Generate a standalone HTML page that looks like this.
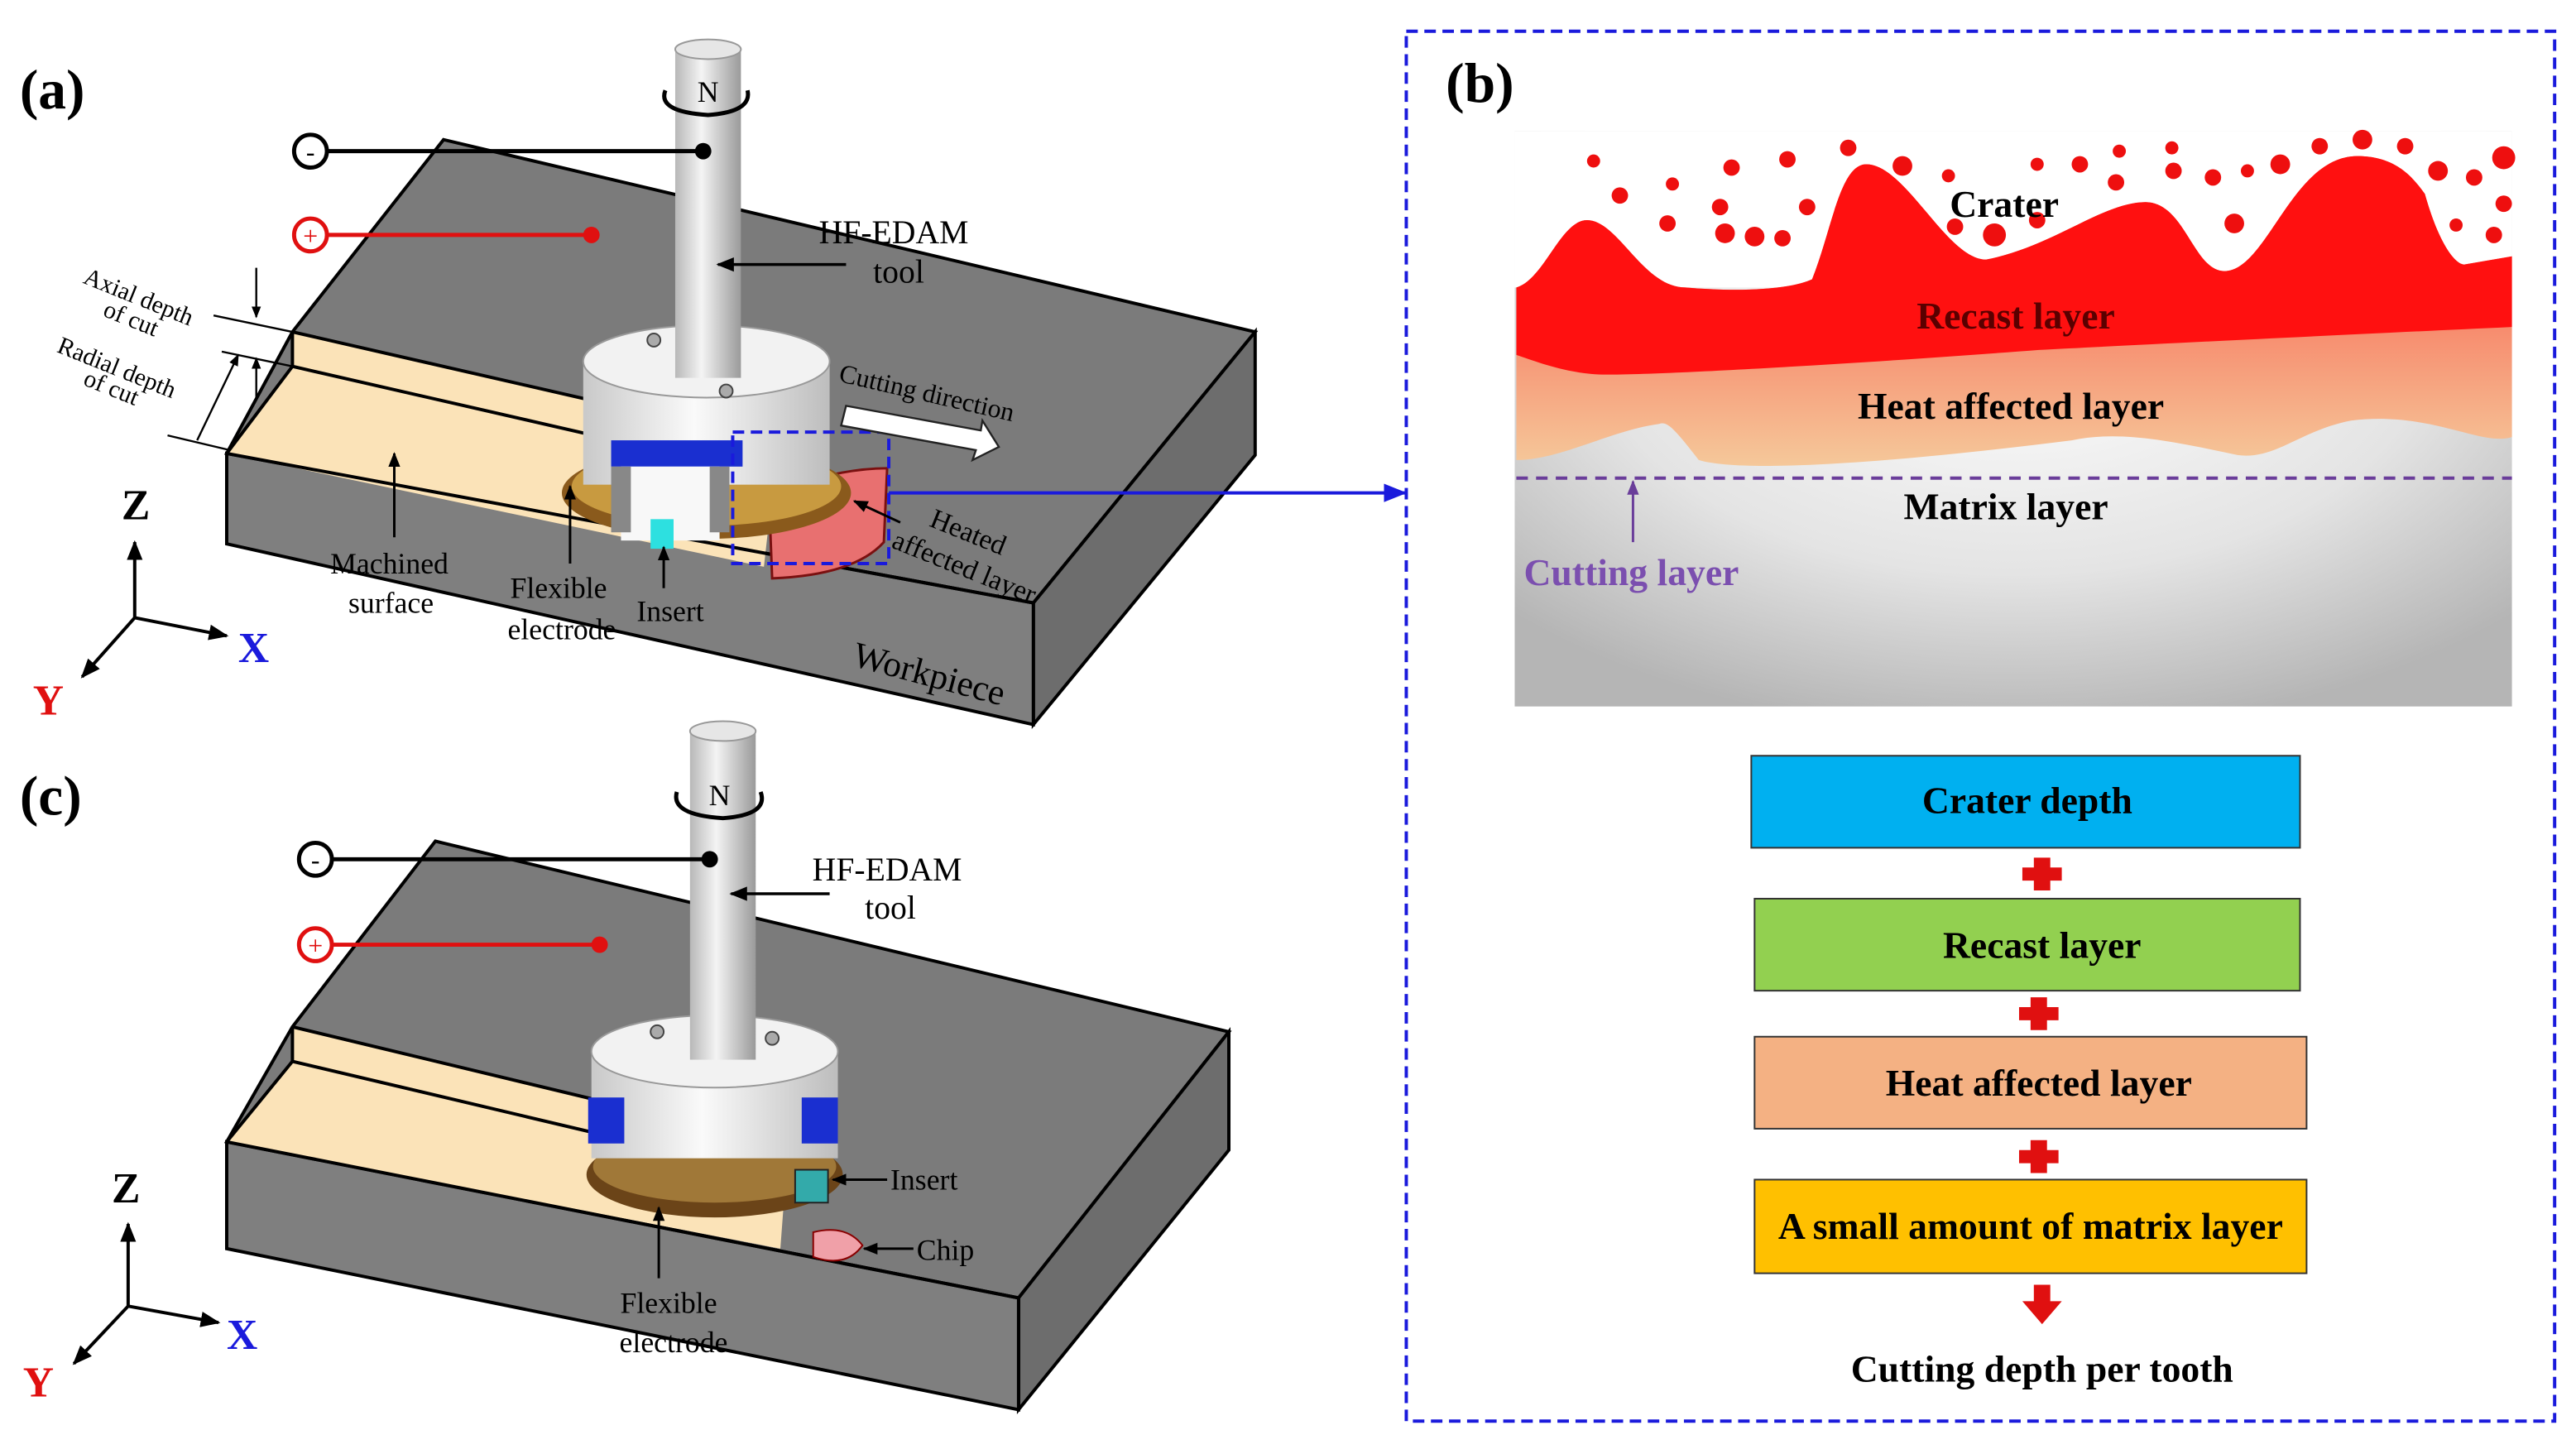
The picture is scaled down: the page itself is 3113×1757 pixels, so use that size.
<!DOCTYPE html>
<html><head><meta charset="utf-8"><style>
html,body{margin:0;padding:0;background:#fff;}
svg{display:block;}
text{font-family:"Liberation Serif",serif;}
</style></head><body>
<svg width="3113" height="1757" viewBox="0 0 1568 885" preserveAspectRatio="none" xmlns="http://www.w3.org/2000/svg">
<defs>
<linearGradient id="shaft" x1="0" x2="1" y1="0" y2="0"><stop offset="0" stop-color="#b8b8b8"/><stop offset="0.4" stop-color="#f4f4f4"/><stop offset="1" stop-color="#9a9a9a"/></linearGradient>
<linearGradient id="holder" x1="0" x2="1"><stop offset="0" stop-color="#c9c9c9"/><stop offset="0.45" stop-color="#fafafa"/><stop offset="1" stop-color="#bdbdbd"/></linearGradient>
<linearGradient id="heat" x1="0" y1="0" x2="0" y2="1"><stop offset="0" stop-color="#ff2a1a"/><stop offset="0.35" stop-color="#f8705a"/><stop offset="1" stop-color="#f5c89a"/></linearGradient>
<radialGradient id="matrix" cx="0.5" cy="0.35" r="0.7"><stop offset="0" stop-color="#ffffff"/><stop offset="0.6" stop-color="#e4e4e4"/><stop offset="1" stop-color="#b5b5b5"/></radialGradient>
<marker id="ah" viewBox="0 0 10 10" refX="9" refY="5" markerWidth="6" markerHeight="6" orient="auto"><path d="M0,1 L10,5 L0,9 z" fill="#000"/></marker>
<marker id="ahb" viewBox="0 0 10 10" refX="9" refY="5" markerWidth="7" markerHeight="7" orient="auto"><path d="M0,1 L10,5 L0,9 z" fill="#1a1adc"/></marker>
<marker id="ahp" viewBox="0 0 10 10" refX="9" refY="5" markerWidth="6" markerHeight="6" orient="auto"><path d="M0,1 L10,5 L0,9 z" fill="#6a3d9a"/></marker>
</defs>

<text x="12" y="66" font-size="34" font-weight="bold">(a)</text>
<polygon points="270,85 764,202 629,367 138,276 178,202" fill="#7b7b7b" stroke="#000" stroke-width="2"/>
<polygon points="764,202 764,277 629,441 629,367" fill="#6d6d6d" stroke="#000" stroke-width="2"/>
<polygon points="138,276 629,367 629,441 138,331" fill="#7f7f7f" stroke="#000" stroke-width="2"/>
<polygon points="178,202 178,223 138,276 465,345 470,300 440,262" fill="#fbe3b8"/>
<line x1="178" y1="202" x2="440" y2="262" stroke="#000" stroke-width="2"/>
<line x1="178" y1="223" x2="440" y2="283" stroke="#000" stroke-width="2"/>
<line x1="178" y1="202" x2="178" y2="223" stroke="#000" stroke-width="2"/>
<line x1="138" y1="276" x2="178" y2="223" stroke="#000" stroke-width="2"/>
<line x1="138" y1="276" x2="629" y2="367" stroke="#000" stroke-width="2"/>
<path d="M468,300 Q510,285 540,285 L538,330 Q520,350 470,352 Z" fill="#e87070" stroke="#7a1010" stroke-width="1.5"/>
<ellipse cx="430" cy="300" rx="88" ry="28" fill="#8a5a1c"/>
<ellipse cx="430" cy="296" rx="82" ry="24" fill="#c89a40"/>
<rect x="355" y="220" width="150" height="75" fill="url(#holder)"/>
<ellipse cx="430" cy="220" rx="75" ry="22" fill="#f2f2f2" stroke="#999"/>
<rect x="372" y="268" width="80" height="16" fill="#1a2fd0"/>
<rect x="378" y="284" width="60" height="45" fill="#f8f8f8"/>
<rect x="372" y="284" width="12" height="40" fill="#888"/>
<rect x="432" y="284" width="12" height="40" fill="#888"/>
<rect x="396" y="316" width="14" height="18" fill="#2de0e0"/>
<circle cx="398" cy="207" r="4" fill="#aaa" stroke="#444"/>
<circle cx="442" cy="238" r="4" fill="#aaa" stroke="#444"/>
<rect x="411" y="30" width="40" height="200" fill="url(#shaft)"/>
<ellipse cx="431" cy="30" rx="20" ry="6" fill="#e6e6e6" stroke="#999"/>
<text x="431" y="62" font-size="18" text-anchor="middle">N</text>
<path d="M405,55 Q400,68 431,70 Q458,68 455,55" fill="none" stroke="#000" stroke-width="2.5"/>
<rect x="446" y="263" width="95" height="80" fill="none" stroke="#1a1adc" stroke-width="2" stroke-dasharray="7,4"/>
<line x1="541" y1="300" x2="855" y2="300" stroke="#1a1adc" stroke-width="2" marker-end="url(#ahb)"/>
<polygon points="515,247 597,262 598,256 608,272 592,280 594,274 512,259" fill="#fff" stroke="#222" stroke-width="1.2"/>
<text x="510" y="232" font-size="16" transform="rotate(13 510 232)">Cutting direction</text>
<circle cx="189" cy="92" r="10" fill="#fff" stroke="#000" stroke-width="2.5"/>
<text x="189" y="98" font-size="16" text-anchor="middle">-</text>
<line x1="199" y1="92" x2="428" y2="92" stroke="#000" stroke-width="2.5"/>
<circle cx="428" cy="92" r="5" fill="#000"/>
<circle cx="189" cy="143" r="10" fill="#fff" stroke="#e01010" stroke-width="2.5"/>
<text x="189" y="149" font-size="16" text-anchor="middle" fill="#e01010">+</text>
<line x1="199" y1="143" x2="360" y2="143" stroke="#e01010" stroke-width="2.5"/>
<circle cx="360" cy="143" r="5" fill="#e01010"/>
<text x="544" y="148" font-size="20" text-anchor="middle">HF-EDAM</text>
<text x="547" y="172" font-size="20" text-anchor="middle">tool</text>
<line x1="515" y1="161" x2="437" y2="161" stroke="#000" stroke-width="1.8" marker-end="url(#ah)"/>
<text x="50" y="172" font-size="15" transform="rotate(22 50 172)">Axial depth</text>
<text x="62" y="192" font-size="15" transform="rotate(22 62 192)">of cut</text>
<text x="34" y="214" font-size="15" transform="rotate(22 34 214)">Radial depth</text>
<text x="50" y="234" font-size="15" transform="rotate(22 50 234)">of cut</text>
<line x1="130" y1="192" x2="178" y2="202" stroke="#000" stroke-width="1.2"/>
<line x1="135" y1="214" x2="178" y2="223" stroke="#000" stroke-width="1.2"/>
<line x1="102" y1="265" x2="140" y2="274" stroke="#000" stroke-width="1.2"/>
<line x1="156" y1="163" x2="156" y2="193" stroke="#000" stroke-width="1.2" marker-end="url(#ah)"/>
<line x1="156" y1="243" x2="156" y2="218" stroke="#000" stroke-width="1.2" marker-end="url(#ah)"/>
<line x1="120" y1="268" x2="145" y2="216" stroke="#000" stroke-width="1.2" marker-end="url(#ah)"/>
<text x="237" y="349" font-size="18" text-anchor="middle">Machined</text>
<text x="238" y="373" font-size="18" text-anchor="middle">surface</text>
<line x1="240" y1="327" x2="240" y2="276" stroke="#000" stroke-width="1.5" marker-end="url(#ah)"/>
<text x="340" y="364" font-size="18" text-anchor="middle">Flexible</text>
<text x="342" y="389" font-size="18" text-anchor="middle">electrode</text>
<line x1="347" y1="343" x2="347" y2="296" stroke="#000" stroke-width="1.5" marker-end="url(#ah)"/>
<text x="408" y="378" font-size="18" text-anchor="middle">Insert</text>
<line x1="404" y1="358" x2="404" y2="333" stroke="#000" stroke-width="1.5" marker-end="url(#ah)"/>
<text x="565" y="320" font-size="17" transform="rotate(22 565 320)">Heated</text>
<text x="542" y="333" font-size="17" transform="rotate(22 542 333)">affected layer</text>
<line x1="548" y1="318" x2="520" y2="305" stroke="#000" stroke-width="1.5" marker-end="url(#ah)"/>
<text x="518" y="405" font-size="22" transform="rotate(15 518 405)">Workpiece</text>
<line x1="82" y1="376" x2="82" y2="330" stroke="#000" stroke-width="2" marker-end="url(#ah)"/>
<line x1="82" y1="376" x2="138" y2="387" stroke="#000" stroke-width="2" marker-end="url(#ah)"/>
<line x1="82" y1="376" x2="50" y2="412" stroke="#000" stroke-width="2" marker-end="url(#ah)"/>
<text x="74" y="316" font-size="26" font-weight="bold">Z</text>
<text x="145" y="403" font-size="26" font-weight="bold" fill="#1a1adc">X</text>
<text x="20" y="435" font-size="26" font-weight="bold" fill="#e01010">Y</text>

<text x="12" y="496" font-size="34" font-weight="bold">(c)</text>
<polygon points="265,512 748,628 620,790 138,695 178,625" fill="#7b7b7b" stroke="#000" stroke-width="2"/>
<polygon points="748,628 748,700 620,858 620,790" fill="#6d6d6d" stroke="#000" stroke-width="2"/>
<polygon points="138,695 620,790 620,858 138,760" fill="#7f7f7f" stroke="#000" stroke-width="2"/>
<polygon points="178,625 178,646 138,695 475,760 478,720 440,688" fill="#fbe3b8"/>
<line x1="178" y1="625" x2="440" y2="688" stroke="#000" stroke-width="2"/>
<line x1="178" y1="646" x2="440" y2="708" stroke="#000" stroke-width="2"/>
<line x1="178" y1="625" x2="178" y2="646" stroke="#000" stroke-width="2"/>
<line x1="138" y1="695" x2="178" y2="646" stroke="#000" stroke-width="2"/>
<line x1="138" y1="695" x2="620" y2="790" stroke="#000" stroke-width="2"/>
<ellipse cx="435" cy="715" rx="78" ry="26" fill="#6b4418"/>
<ellipse cx="435" cy="710" rx="74" ry="22" fill="#a07838"/>
<rect x="360" y="640" width="150" height="65" fill="url(#holder)"/>
<rect x="358" y="668" width="22" height="28" fill="#1a2fd0"/>
<rect x="488" y="668" width="22" height="28" fill="#1a2fd0"/>
<ellipse cx="435" cy="640" rx="75" ry="22" fill="#f2f2f2" stroke="#999"/>
<rect x="484" y="712" width="20" height="20" fill="#3aa" stroke="#222"/>
<circle cx="400" cy="628" r="4" fill="#aaa" stroke="#444"/>
<circle cx="470" cy="632" r="4" fill="#aaa" stroke="#444"/>
<rect x="420" y="445" width="40" height="200" fill="url(#shaft)"/>
<ellipse cx="440" cy="445" rx="20" ry="6" fill="#e6e6e6" stroke="#999"/>
<text x="438" y="490" font-size="18" text-anchor="middle">N</text>
<path d="M412,482 Q408,496 440,498 Q468,496 463,482" fill="none" stroke="#000" stroke-width="2.5"/>
<path d="M495,750 Q515,745 525,758 Q515,772 495,765 Z" fill="#f0a0a8" stroke="#800" stroke-width="1"/>
<circle cx="192" cy="523" r="10" fill="#fff" stroke="#000" stroke-width="2.5"/>
<text x="192" y="529" font-size="16" text-anchor="middle">-</text>
<line x1="202" y1="523" x2="432" y2="523" stroke="#000" stroke-width="2.5"/>
<circle cx="432" cy="523" r="5" fill="#000"/>
<circle cx="192" cy="575" r="10" fill="#fff" stroke="#e01010" stroke-width="2.5"/>
<text x="192" y="581" font-size="16" text-anchor="middle" fill="#e01010">+</text>
<line x1="202" y1="575" x2="365" y2="575" stroke="#e01010" stroke-width="2.5"/>
<circle cx="365" cy="575" r="5" fill="#e01010"/>
<text x="540" y="536" font-size="20" text-anchor="middle">HF-EDAM</text>
<text x="542" y="559" font-size="20" text-anchor="middle">tool</text>
<line x1="505" y1="544" x2="445" y2="544" stroke="#000" stroke-width="1.8" marker-end="url(#ah)"/>
<text x="542" y="724" font-size="18">Insert</text>
<line x1="540" y1="718" x2="507" y2="718" stroke="#000" stroke-width="1.5" marker-end="url(#ah)"/>
<text x="558" y="767" font-size="18">Chip</text>
<line x1="556" y1="760" x2="526" y2="760" stroke="#000" stroke-width="1.5" marker-end="url(#ah)"/>
<text x="407" y="799" font-size="18" text-anchor="middle">Flexible</text>
<text x="410" y="823" font-size="18" text-anchor="middle">electrode</text>
<line x1="401" y1="778" x2="401" y2="735" stroke="#000" stroke-width="1.5" marker-end="url(#ah)"/>
<line x1="78" y1="795" x2="78" y2="745" stroke="#000" stroke-width="2" marker-end="url(#ah)"/>
<line x1="78" y1="795" x2="133" y2="805" stroke="#000" stroke-width="2" marker-end="url(#ah)"/>
<line x1="78" y1="795" x2="45" y2="830" stroke="#000" stroke-width="2" marker-end="url(#ah)"/>
<text x="68" y="732" font-size="26" font-weight="bold">Z</text>
<text x="138" y="821" font-size="26" font-weight="bold" fill="#1a1adc">X</text>
<text x="14" y="850" font-size="26" font-weight="bold" fill="#e01010">Y</text>

<rect x="856" y="19" width="699" height="846" fill="none" stroke="#1a1adc" stroke-width="2" stroke-dasharray="7,4"/>
<text x="880" y="62" font-size="34" font-weight="bold">(b)</text>
<rect x="922" y="80" width="607" height="350" fill="url(#matrix)"/>
<rect x="922" y="80" width="607" height="95" fill="#fff"/>
<path d="M923,280 L923,175 C940,170 950,134 966,134 C985,134 1000,175 1026,175 C1060,178 1090,176 1103,170 C1115,140 1120,100 1136,100 C1160,100 1185,158 1209,158 C1250,150 1280,123 1306,123 C1330,123 1335,165 1354,165 C1380,165 1395,95 1435,95 C1460,95 1470,110 1476,118 C1485,150 1495,161 1500,161 L1529,156 L1529,266 C1510,272 1480,250 1431,256 C1400,262 1385,280 1362,277 C1320,268 1290,262 1261,268 C1150,282 1060,288 1034,280 C1020,262 1015,256 1010,258 C980,262 950,280 923,280 Z" fill="url(#heat)"/>
<path d="M923,175 C940,170 950,134 966,134 C985,134 1000,175 1026,175 C1060,178 1090,176 1103,170 C1115,140 1120,100 1136,100 C1160,100 1185,158 1209,158 C1250,150 1280,123 1306,123 C1330,123 1335,165 1354,165 C1380,165 1395,95 1435,95 C1460,95 1470,110 1476,118 C1485,150 1495,161 1500,161 L1529,156 L1529,199 C1400,205 1300,210 1241,213 C1150,220 1020,228 978,228 C955,228 935,220 923,216 Z" fill="#ff1010"/>
<g fill="#ee0f0f">
<circle cx="970" cy="98" r="4"/><circle cx="986" cy="119" r="5"/><circle cx="1018" cy="112" r="4"/><circle cx="1054" cy="102" r="5"/><circle cx="1088" cy="97" r="5"/><circle cx="1125" cy="90" r="5"/><circle cx="1158" cy="101" r="6"/><circle cx="1015" cy="136" r="5"/><circle cx="1047" cy="126" r="5"/><circle cx="1068" cy="144" r="6"/><circle cx="1100" cy="126" r="5"/><circle cx="1085" cy="145" r="5"/><circle cx="1050" cy="142" r="6"/><circle cx="1186" cy="107" r="4"/><circle cx="1190" cy="138" r="5"/><circle cx="1214" cy="143" r="7"/><circle cx="1240" cy="134" r="5"/><circle cx="1240" cy="100" r="4"/><circle cx="1266" cy="100" r="5"/><circle cx="1288" cy="111" r="5"/><circle cx="1290" cy="92" r="4"/><circle cx="1322" cy="90" r="4"/><circle cx="1323" cy="104" r="5"/><circle cx="1347" cy="108" r="5"/><circle cx="1360" cy="136" r="6"/><circle cx="1368" cy="104" r="4"/><circle cx="1388" cy="100" r="6"/><circle cx="1412" cy="89" r="5"/><circle cx="1438" cy="85" r="6"/><circle cx="1464" cy="89" r="5"/><circle cx="1484" cy="104" r="6"/><circle cx="1506" cy="108" r="5"/><circle cx="1524" cy="96" r="7"/><circle cx="1524" cy="124" r="5"/><circle cx="1495" cy="137" r="4"/><circle cx="1518" cy="143" r="5"/>
</g>
<line x1="923" y1="291" x2="1529" y2="291" stroke="#6a3d9a" stroke-width="2" stroke-dasharray="7,5"/>
<line x1="994" y1="330" x2="994" y2="293" stroke="#6a3d9a" stroke-width="1.5" marker-end="url(#ahp)"/>
<g font-weight="bold" font-size="23" text-anchor="middle">
<text x="1220" y="132">Crater</text>
<text x="1227" y="200" fill="#5a0000">Recast layer</text>
<text x="1224" y="255">Heat affected layer</text>
<text x="1221" y="316">Matrix layer</text>
<text x="993" y="356" fill="#7b4faf">Cutting layer</text>
</g>
<rect x="1066" y="460" width="334" height="56" fill="#00b0f0" stroke="#333" stroke-width="1"/>
<rect x="1068" y="547" width="332" height="56" fill="#92d050" stroke="#333" stroke-width="1"/>
<rect x="1068" y="631" width="336" height="56" fill="#f4b183" stroke="#333" stroke-width="1"/>
<rect x="1068" y="718" width="336" height="57" fill="#ffc000" stroke="#333" stroke-width="1"/>
<g font-weight="bold" font-size="23" text-anchor="middle">
<text x="1234" y="495">Crater depth</text>
<text x="1243" y="583">Recast layer</text>
<text x="1241" y="667">Heat affected layer</text>
<text x="1236" y="754">A small amount of matrix layer</text>
<text x="1243" y="841">Cutting depth per tooth</text>
</g>
<g fill="#e01010">
<path d="M1238,522 h10 v6 h7 v8 h-7 v6 h-10 v-6 h-7 v-8 h7 z"/>
<path d="M1236,607 h10 v6 h7 v8 h-7 v6 h-10 v-6 h-7 v-8 h7 z"/>
<path d="M1236,694 h10 v6 h7 v8 h-7 v6 h-10 v-6 h-7 v-8 h7 z"/>
<path d="M1238,782 h10 v10 h7 l-12,14 l-12,-14 h7 z"/>
</g>
</svg>
</body></html>
